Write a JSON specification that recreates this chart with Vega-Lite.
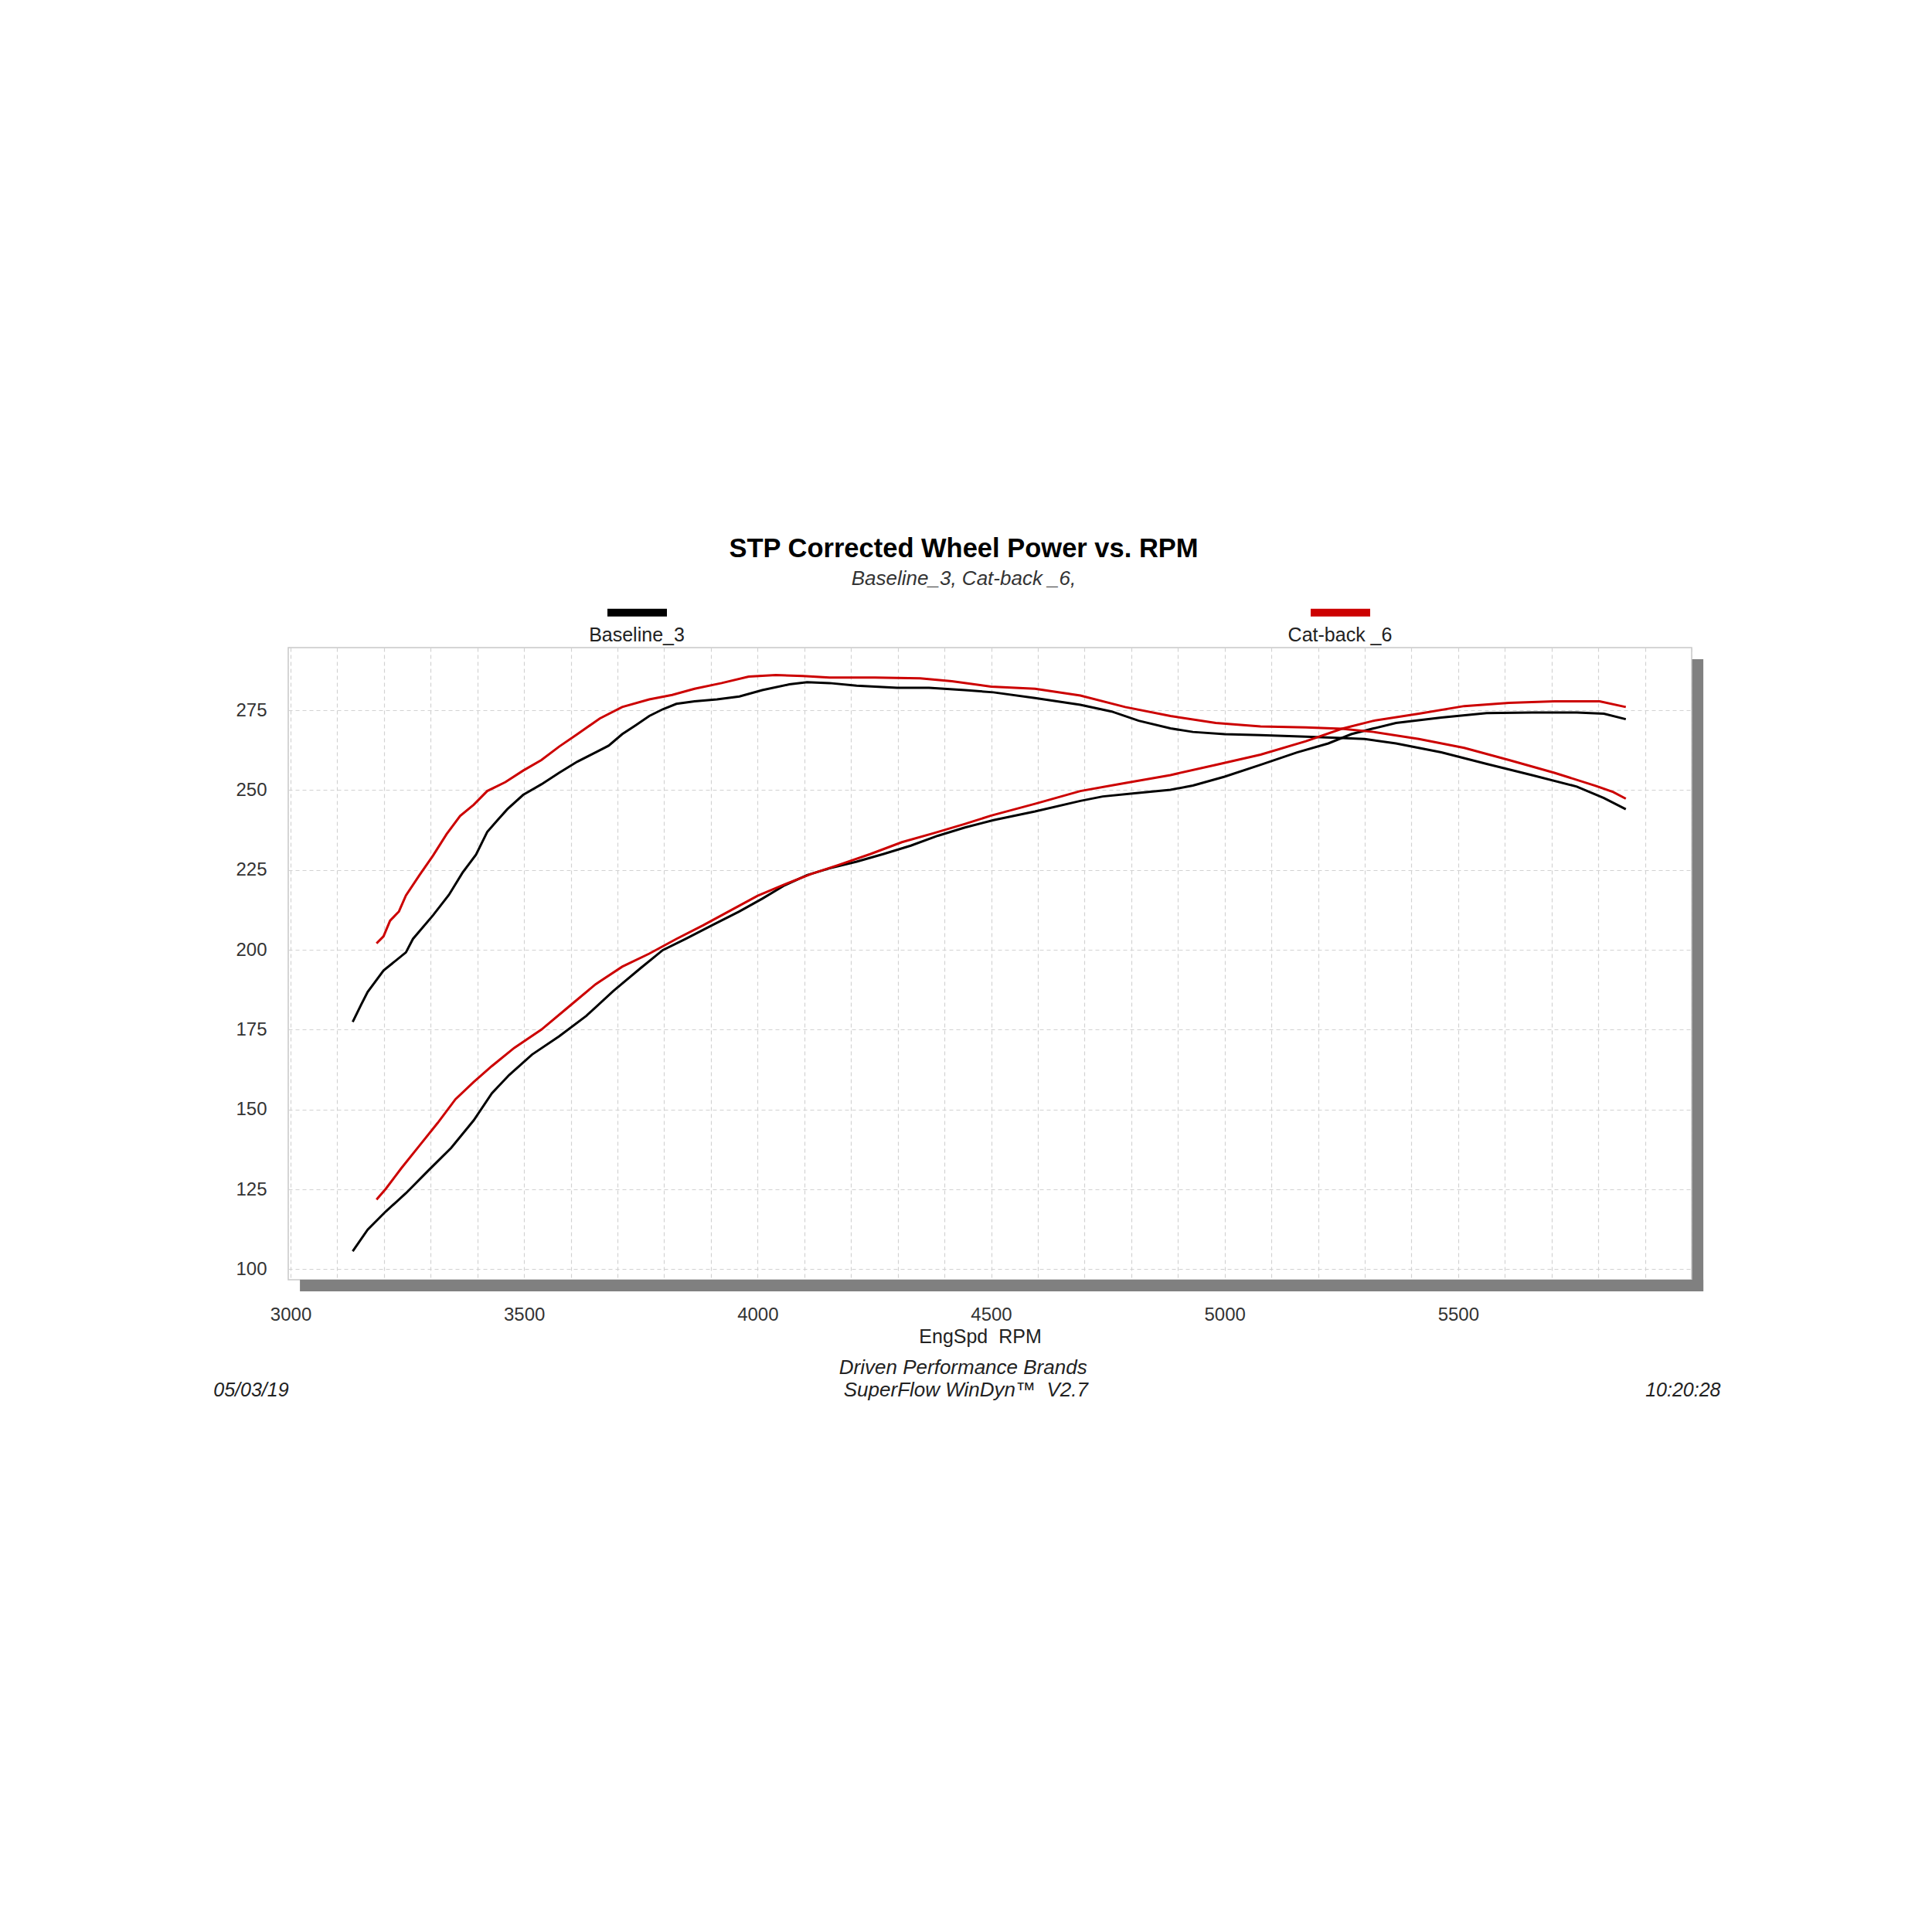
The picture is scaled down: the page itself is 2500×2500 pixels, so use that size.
{
  "$schema": "https://vega.github.io/schema/vega-lite/v6.json",
  "width": 1816,
  "height": 818,
  "autosize": {"type": "none"},
  "padding": {"left": 373, "top": 838, "right": 311, "bottom": 844},
  "background": "white",
  "title": {
    "text": "STP Corrected Wheel Power vs. RPM",
    "subtitle": "Baseline_3, Cat-back _6,",
    "frame": "group",
    "anchor": "middle",
    "dx": -34,
    "offset": -14,
    "font": "Liberation Sans",
    "fontSize": 34.5,
    "fontWeight": "bold",
    "color": "#000000",
    "subtitleFont": "Liberation Sans",
    "subtitleFontSize": 26,
    "subtitleFontStyle": "italic",
    "subtitleColor": "#333333",
    "subtitlePadding": 7.5
  },
  "config": {
    "view": {"stroke": "#c8c8c8", "strokeWidth": 1.5},
    "axis": {
      "labelFont": "Liberation Sans",
      "labelFontSize": 24,
      "labelColor": "#333333",
      "ticks": false,
      "tickSize": 0,
      "domain": false,
      "grid": true,
      "gridColor": "#d2d2d2",
      "gridDash": [5, 4],
      "gridWidth": 1.2,
      "labelOverlap": false,
      "labelFlush": false
    },
    "legend": {
      "labelFont": "Liberation Sans",
      "labelFontSize": 25,
      "labelColor": "#222222"
    }
  },
  "datasets": {
    "dyno": [
      {"run": "Baseline_3", "curve": "Torque", "rpm": 3133, "value": 177.4},
      {"run": "Baseline_3", "curve": "Torque", "rpm": 3151, "value": 182.8},
      {"run": "Baseline_3", "curve": "Torque", "rpm": 3165, "value": 186.8},
      {"run": "Baseline_3", "curve": "Torque", "rpm": 3199, "value": 193.5},
      {"run": "Baseline_3", "curve": "Torque", "rpm": 3247, "value": 199.2},
      {"run": "Baseline_3", "curve": "Torque", "rpm": 3262, "value": 203.4},
      {"run": "Baseline_3", "curve": "Torque", "rpm": 3305, "value": 210.8},
      {"run": "Baseline_3", "curve": "Torque", "rpm": 3339, "value": 217.2},
      {"run": "Baseline_3", "curve": "Torque", "rpm": 3368, "value": 224.1},
      {"run": "Baseline_3", "curve": "Torque", "rpm": 3397, "value": 229.8},
      {"run": "Baseline_3", "curve": "Torque", "rpm": 3421, "value": 236.9},
      {"run": "Baseline_3", "curve": "Torque", "rpm": 3442, "value": 240.4},
      {"run": "Baseline_3", "curve": "Torque", "rpm": 3464, "value": 244.0},
      {"run": "Baseline_3", "curve": "Torque", "rpm": 3498, "value": 248.5},
      {"run": "Baseline_3", "curve": "Torque", "rpm": 3537, "value": 251.8},
      {"run": "Baseline_3", "curve": "Torque", "rpm": 3575, "value": 255.4},
      {"run": "Baseline_3", "curve": "Torque", "rpm": 3614, "value": 258.9},
      {"run": "Baseline_3", "curve": "Torque", "rpm": 3653, "value": 261.8},
      {"run": "Baseline_3", "curve": "Torque", "rpm": 3681, "value": 263.9},
      {"run": "Baseline_3", "curve": "Torque", "rpm": 3710, "value": 267.5},
      {"run": "Baseline_3", "curve": "Torque", "rpm": 3739, "value": 270.3},
      {"run": "Baseline_3", "curve": "Torque", "rpm": 3768, "value": 273.2},
      {"run": "Baseline_3", "curve": "Torque", "rpm": 3797, "value": 275.3},
      {"run": "Baseline_3", "curve": "Torque", "rpm": 3826, "value": 277.0},
      {"run": "Baseline_3", "curve": "Torque", "rpm": 3865, "value": 277.8},
      {"run": "Baseline_3", "curve": "Torque", "rpm": 3913, "value": 278.4},
      {"run": "Baseline_3", "curve": "Torque", "rpm": 3961, "value": 279.3},
      {"run": "Baseline_3", "curve": "Torque", "rpm": 4010, "value": 281.3},
      {"run": "Baseline_3", "curve": "Torque", "rpm": 4068, "value": 283.1},
      {"run": "Baseline_3", "curve": "Torque", "rpm": 4106, "value": 283.8},
      {"run": "Baseline_3", "curve": "Torque", "rpm": 4154, "value": 283.5},
      {"run": "Baseline_3", "curve": "Torque", "rpm": 4212, "value": 282.7},
      {"run": "Baseline_3", "curve": "Torque", "rpm": 4299, "value": 282.0},
      {"run": "Baseline_3", "curve": "Torque", "rpm": 4367, "value": 282.0},
      {"run": "Baseline_3", "curve": "Torque", "rpm": 4444, "value": 281.3},
      {"run": "Baseline_3", "curve": "Torque", "rpm": 4505, "value": 280.6},
      {"run": "Baseline_3", "curve": "Torque", "rpm": 4594, "value": 278.8},
      {"run": "Baseline_3", "curve": "Torque", "rpm": 4691, "value": 276.7},
      {"run": "Baseline_3", "curve": "Torque", "rpm": 4758, "value": 274.6},
      {"run": "Baseline_3", "curve": "Torque", "rpm": 4816, "value": 271.7},
      {"run": "Baseline_3", "curve": "Torque", "rpm": 4884, "value": 269.3},
      {"run": "Baseline_3", "curve": "Torque", "rpm": 4932, "value": 268.2},
      {"run": "Baseline_3", "curve": "Torque", "rpm": 5000, "value": 267.5},
      {"run": "Baseline_3", "curve": "Torque", "rpm": 5077, "value": 267.2},
      {"run": "Baseline_3", "curve": "Torque", "rpm": 5174, "value": 266.7},
      {"run": "Baseline_3", "curve": "Torque", "rpm": 5251, "value": 266.3},
      {"run": "Baseline_3", "curve": "Torque", "rpm": 5300, "value": 266.0},
      {"run": "Baseline_3", "curve": "Torque", "rpm": 5367, "value": 264.6},
      {"run": "Baseline_3", "curve": "Torque", "rpm": 5464, "value": 261.8},
      {"run": "Baseline_3", "curve": "Torque", "rpm": 5561, "value": 258.2},
      {"run": "Baseline_3", "curve": "Torque", "rpm": 5658, "value": 254.7},
      {"run": "Baseline_3", "curve": "Torque", "rpm": 5754, "value": 251.1},
      {"run": "Baseline_3", "curve": "Torque", "rpm": 5812, "value": 247.5},
      {"run": "Baseline_3", "curve": "Torque", "rpm": 5859, "value": 244.0},
      {"run": "Baseline_3", "curve": "Power", "rpm": 3133, "value": 105.6},
      {"run": "Baseline_3", "curve": "Power", "rpm": 3165, "value": 112.4},
      {"run": "Baseline_3", "curve": "Power", "rpm": 3204, "value": 118.1},
      {"run": "Baseline_3", "curve": "Power", "rpm": 3247, "value": 123.8},
      {"run": "Baseline_3", "curve": "Power", "rpm": 3295, "value": 130.9},
      {"run": "Baseline_3", "curve": "Power", "rpm": 3344, "value": 138.0},
      {"run": "Baseline_3", "curve": "Power", "rpm": 3392, "value": 146.6},
      {"run": "Baseline_3", "curve": "Power", "rpm": 3431, "value": 155.1},
      {"run": "Baseline_3", "curve": "Power", "rpm": 3468, "value": 160.8},
      {"run": "Baseline_3", "curve": "Power", "rpm": 3517, "value": 167.2},
      {"run": "Baseline_3", "curve": "Power", "rpm": 3575, "value": 172.9},
      {"run": "Baseline_3", "curve": "Power", "rpm": 3633, "value": 179.3},
      {"run": "Baseline_3", "curve": "Power", "rpm": 3691, "value": 187.1},
      {"run": "Baseline_3", "curve": "Power", "rpm": 3749, "value": 194.2},
      {"run": "Baseline_3", "curve": "Power", "rpm": 3797, "value": 199.9},
      {"run": "Baseline_3", "curve": "Power", "rpm": 3846, "value": 203.4},
      {"run": "Baseline_3", "curve": "Power", "rpm": 3903, "value": 207.7},
      {"run": "Baseline_3", "curve": "Power", "rpm": 3961, "value": 212.0},
      {"run": "Baseline_3", "curve": "Power", "rpm": 4010, "value": 216.0},
      {"run": "Baseline_3", "curve": "Power", "rpm": 4058, "value": 220.2},
      {"run": "Baseline_3", "curve": "Power", "rpm": 4106, "value": 223.4},
      {"run": "Baseline_3", "curve": "Power", "rpm": 4154, "value": 225.5},
      {"run": "Baseline_3", "curve": "Power", "rpm": 4212, "value": 227.6},
      {"run": "Baseline_3", "curve": "Power", "rpm": 4270, "value": 230.0},
      {"run": "Baseline_3", "curve": "Power", "rpm": 4328, "value": 232.6},
      {"run": "Baseline_3", "curve": "Power", "rpm": 4386, "value": 235.7},
      {"run": "Baseline_3", "curve": "Power", "rpm": 4444, "value": 238.3},
      {"run": "Baseline_3", "curve": "Power", "rpm": 4505, "value": 240.6},
      {"run": "Baseline_3", "curve": "Power", "rpm": 4594, "value": 243.3},
      {"run": "Baseline_3", "curve": "Power", "rpm": 4691, "value": 246.6},
      {"run": "Baseline_3", "curve": "Power", "rpm": 4739, "value": 248.0},
      {"run": "Baseline_3", "curve": "Power", "rpm": 4807, "value": 249.0},
      {"run": "Baseline_3", "curve": "Power", "rpm": 4884, "value": 250.1},
      {"run": "Baseline_3", "curve": "Power", "rpm": 4932, "value": 251.4},
      {"run": "Baseline_3", "curve": "Power", "rpm": 5000, "value": 254.2},
      {"run": "Baseline_3", "curve": "Power", "rpm": 5077, "value": 257.9},
      {"run": "Baseline_3", "curve": "Power", "rpm": 5155, "value": 261.8},
      {"run": "Baseline_3", "curve": "Power", "rpm": 5222, "value": 264.6},
      {"run": "Baseline_3", "curve": "Power", "rpm": 5271, "value": 267.5},
      {"run": "Baseline_3", "curve": "Power", "rpm": 5319, "value": 269.3},
      {"run": "Baseline_3", "curve": "Power", "rpm": 5367, "value": 271.0},
      {"run": "Baseline_3", "curve": "Power", "rpm": 5464, "value": 272.7},
      {"run": "Baseline_3", "curve": "Power", "rpm": 5561, "value": 274.1},
      {"run": "Baseline_3", "curve": "Power", "rpm": 5658, "value": 274.3},
      {"run": "Baseline_3", "curve": "Power", "rpm": 5754, "value": 274.3},
      {"run": "Baseline_3", "curve": "Power", "rpm": 5812, "value": 273.9},
      {"run": "Baseline_3", "curve": "Power", "rpm": 5859, "value": 272.2},
      {"run": "Cat-back _6", "curve": "Torque", "rpm": 3184, "value": 202.0},
      {"run": "Cat-back _6", "curve": "Torque", "rpm": 3199, "value": 204.2},
      {"run": "Cat-back _6", "curve": "Torque", "rpm": 3213, "value": 209.1},
      {"run": "Cat-back _6", "curve": "Torque", "rpm": 3232, "value": 212.0},
      {"run": "Cat-back _6", "curve": "Torque", "rpm": 3247, "value": 217.0},
      {"run": "Cat-back _6", "curve": "Torque", "rpm": 3276, "value": 223.4},
      {"run": "Cat-back _6", "curve": "Torque", "rpm": 3305, "value": 229.5},
      {"run": "Cat-back _6", "curve": "Torque", "rpm": 3334, "value": 236.2},
      {"run": "Cat-back _6", "curve": "Torque", "rpm": 3363, "value": 241.9},
      {"run": "Cat-back _6", "curve": "Torque", "rpm": 3392, "value": 245.4},
      {"run": "Cat-back _6", "curve": "Torque", "rpm": 3421, "value": 249.7},
      {"run": "Cat-back _6", "curve": "Torque", "rpm": 3460, "value": 252.5},
      {"run": "Cat-back _6", "curve": "Torque", "rpm": 3498, "value": 256.1},
      {"run": "Cat-back _6", "curve": "Torque", "rpm": 3537, "value": 259.4},
      {"run": "Cat-back _6", "curve": "Torque", "rpm": 3575, "value": 263.6},
      {"run": "Cat-back _6", "curve": "Torque", "rpm": 3614, "value": 267.5},
      {"run": "Cat-back _6", "curve": "Torque", "rpm": 3662, "value": 272.4},
      {"run": "Cat-back _6", "curve": "Torque", "rpm": 3710, "value": 276.0},
      {"run": "Cat-back _6", "curve": "Torque", "rpm": 3768, "value": 278.4},
      {"run": "Cat-back _6", "curve": "Torque", "rpm": 3817, "value": 279.8},
      {"run": "Cat-back _6", "curve": "Torque", "rpm": 3865, "value": 281.7},
      {"run": "Cat-back _6", "curve": "Torque", "rpm": 3923, "value": 283.5},
      {"run": "Cat-back _6", "curve": "Torque", "rpm": 3981, "value": 285.5},
      {"run": "Cat-back _6", "curve": "Torque", "rpm": 4039, "value": 286.0},
      {"run": "Cat-back _6", "curve": "Torque", "rpm": 4097, "value": 285.7},
      {"run": "Cat-back _6", "curve": "Torque", "rpm": 4154, "value": 285.2},
      {"run": "Cat-back _6", "curve": "Torque", "rpm": 4251, "value": 285.2},
      {"run": "Cat-back _6", "curve": "Torque", "rpm": 4348, "value": 285.0},
      {"run": "Cat-back _6", "curve": "Torque", "rpm": 4416, "value": 284.1},
      {"run": "Cat-back _6", "curve": "Torque", "rpm": 4500, "value": 282.4},
      {"run": "Cat-back _6", "curve": "Torque", "rpm": 4594, "value": 281.7},
      {"run": "Cat-back _6", "curve": "Torque", "rpm": 4691, "value": 279.6},
      {"run": "Cat-back _6", "curve": "Torque", "rpm": 4787, "value": 276.0},
      {"run": "Cat-back _6", "curve": "Torque", "rpm": 4884, "value": 273.2},
      {"run": "Cat-back _6", "curve": "Torque", "rpm": 4981, "value": 271.0},
      {"run": "Cat-back _6", "curve": "Torque", "rpm": 5077, "value": 269.9},
      {"run": "Cat-back _6", "curve": "Torque", "rpm": 5174, "value": 269.6},
      {"run": "Cat-back _6", "curve": "Torque", "rpm": 5251, "value": 269.2},
      {"run": "Cat-back _6", "curve": "Torque", "rpm": 5319, "value": 268.2},
      {"run": "Cat-back _6", "curve": "Torque", "rpm": 5416, "value": 266.0},
      {"run": "Cat-back _6", "curve": "Torque", "rpm": 5513, "value": 263.2},
      {"run": "Cat-back _6", "curve": "Torque", "rpm": 5609, "value": 259.4},
      {"run": "Cat-back _6", "curve": "Torque", "rpm": 5706, "value": 255.4},
      {"run": "Cat-back _6", "curve": "Torque", "rpm": 5793, "value": 251.4},
      {"run": "Cat-back _6", "curve": "Torque", "rpm": 5832, "value": 249.4},
      {"run": "Cat-back _6", "curve": "Torque", "rpm": 5859, "value": 247.3},
      {"run": "Cat-back _6", "curve": "Power", "rpm": 3184, "value": 121.8},
      {"run": "Cat-back _6", "curve": "Power", "rpm": 3204, "value": 125.2},
      {"run": "Cat-back _6", "curve": "Power", "rpm": 3237, "value": 131.6},
      {"run": "Cat-back _6", "curve": "Power", "rpm": 3276, "value": 138.7},
      {"run": "Cat-back _6", "curve": "Power", "rpm": 3315, "value": 145.8},
      {"run": "Cat-back _6", "curve": "Power", "rpm": 3353, "value": 153.2},
      {"run": "Cat-back _6", "curve": "Power", "rpm": 3392, "value": 158.6},
      {"run": "Cat-back _6", "curve": "Power", "rpm": 3431, "value": 163.6},
      {"run": "Cat-back _6", "curve": "Power", "rpm": 3479, "value": 169.3},
      {"run": "Cat-back _6", "curve": "Power", "rpm": 3537, "value": 175.0},
      {"run": "Cat-back _6", "curve": "Power", "rpm": 3595, "value": 182.1},
      {"run": "Cat-back _6", "curve": "Power", "rpm": 3653, "value": 189.2},
      {"run": "Cat-back _6", "curve": "Power", "rpm": 3710, "value": 194.7},
      {"run": "Cat-back _6", "curve": "Power", "rpm": 3768, "value": 198.8},
      {"run": "Cat-back _6", "curve": "Power", "rpm": 3826, "value": 203.4},
      {"run": "Cat-back _6", "curve": "Power", "rpm": 3884, "value": 207.7},
      {"run": "Cat-back _6", "curve": "Power", "rpm": 3942, "value": 212.3},
      {"run": "Cat-back _6", "curve": "Power", "rpm": 4000, "value": 216.9},
      {"run": "Cat-back _6", "curve": "Power", "rpm": 4058, "value": 220.5},
      {"run": "Cat-back _6", "curve": "Power", "rpm": 4116, "value": 223.8},
      {"run": "Cat-back _6", "curve": "Power", "rpm": 4174, "value": 226.6},
      {"run": "Cat-back _6", "curve": "Power", "rpm": 4242, "value": 230.0},
      {"run": "Cat-back _6", "curve": "Power", "rpm": 4309, "value": 233.7},
      {"run": "Cat-back _6", "curve": "Power", "rpm": 4377, "value": 236.5},
      {"run": "Cat-back _6", "curve": "Power", "rpm": 4444, "value": 239.4},
      {"run": "Cat-back _6", "curve": "Power", "rpm": 4500, "value": 242.0},
      {"run": "Cat-back _6", "curve": "Power", "rpm": 4594, "value": 245.7},
      {"run": "Cat-back _6", "curve": "Power", "rpm": 4691, "value": 249.7},
      {"run": "Cat-back _6", "curve": "Power", "rpm": 4787, "value": 252.2},
      {"run": "Cat-back _6", "curve": "Power", "rpm": 4884, "value": 254.7},
      {"run": "Cat-back _6", "curve": "Power", "rpm": 4981, "value": 257.9},
      {"run": "Cat-back _6", "curve": "Power", "rpm": 5077, "value": 261.1},
      {"run": "Cat-back _6", "curve": "Power", "rpm": 5174, "value": 265.3},
      {"run": "Cat-back _6", "curve": "Power", "rpm": 5251, "value": 269.2},
      {"run": "Cat-back _6", "curve": "Power", "rpm": 5319, "value": 271.7},
      {"run": "Cat-back _6", "curve": "Power", "rpm": 5416, "value": 273.9},
      {"run": "Cat-back _6", "curve": "Power", "rpm": 5513, "value": 276.3},
      {"run": "Cat-back _6", "curve": "Power", "rpm": 5609, "value": 277.3},
      {"run": "Cat-back _6", "curve": "Power", "rpm": 5706, "value": 277.8},
      {"run": "Cat-back _6", "curve": "Power", "rpm": 5803, "value": 277.8},
      {"run": "Cat-back _6", "curve": "Power", "rpm": 5859, "value": 276.0}
    ]
  },
  "layer": [
    {
      "data": {"name": "dyno"},
      "mark": {"type": "line", "strokeWidth": 3, "interpolate": "linear"},
      "encoding": {
        "x": {
          "field": "rpm",
          "type": "quantitative",
          "scale": {"domain": [2995, 6000], "nice": false, "zero": false},
          "axis": {
            "values": [3000, 3100, 3200, 3300, 3400, 3500, 3600, 3700, 3800, 3900, 4000, 4100, 4200, 4300, 4400, 4500, 4600, 4700, 4800, 4900, 5000, 5100, 5200, 5300, 5400, 5500, 5600, 5700, 5800, 5900, 6000],
            "format": "d",
            "labelExpr": "(datum.value % 500 === 0 && datum.value < 6000) ? datum.label : ''",
            "labelPadding": 33,
            "title": "EngSpd\u00a0 RPM",
            "titleFont": "Liberation Sans",
            "titleFontSize": 25,
            "titleFontWeight": "normal",
            "titleColor": "#222222",
            "titleX": 895,
            "titleY": 73,
            "titleAlign": "center",
            "titleBaseline": "middle"
          }
        },
        "y": {
          "field": "value",
          "type": "quantitative",
          "scale": {"domain": [96.7, 294.6], "nice": false, "zero": false},
          "axis": {
            "values": [100, 125, 150, 175, 200, 225, 250, 275],
            "format": "d",
            "labelPadding": 28,
            "title": ""
          }
        },
        "color": {
          "field": "run",
          "type": "nominal",
          "scale": {"domain": ["Baseline_3", "Cat-back _6"], "range": ["#000000", "#cc0000"]},
          "legend": {
            "title": null,
            "orient": "none",
            "legendX": 408,
            "legendY": -89,
            "direction": "horizontal",
            "padding": 0,
            "symbolType": "stroke",
            "symbolSize": 5929,
            "symbolStrokeWidth": 10,
            "labelAlign": "center",
            "labelOffset": -44,
            "columnPadding": 780,
            "encoding": {"labels": {"dy": {"value": 29}}}
          }
        },
        "detail": {"field": "curve", "type": "nominal"}
      }
    },
    {
      "data": {"values": [{}]},
      "mark": {"type": "rect", "color": "#808080"},
      "encoding": {
        "x": {"datum": 3020, "type": "quantitative"},
        "x2": {"datum": 6025},
        "y": {"datum": 96.7, "type": "quantitative"},
        "y2": {"datum": 93.1}
      }
    },
    {
      "data": {"values": [{}]},
      "mark": {"type": "rect", "color": "#808080"},
      "encoding": {
        "x": {"datum": 6001, "type": "quantitative"},
        "x2": {"datum": 6025},
        "y": {"datum": 291.0, "type": "quantitative"},
        "y2": {"datum": 93.1}
      }
    },
    {
      "data": {"values": [{}]},
      "mark": {"type": "text", "font": "Liberation Sans", "fontSize": 25, "fontStyle": "italic", "color": "#222222", "align": "left", "baseline": "middle"},
      "encoding": {
        "x": {"datum": 2835, "type": "quantitative"},
        "y": {"datum": 62.1, "type": "quantitative"},
        "text": {"value": "05/03/19"}
      }
    },
    {
      "data": {"values": [{}]},
      "mark": {"type": "text", "font": "Liberation Sans", "fontSize": 25, "fontStyle": "italic", "color": "#222222", "align": "right", "baseline": "middle"},
      "encoding": {
        "x": {"datum": 6062, "type": "quantitative"},
        "y": {"datum": 62.1, "type": "quantitative"},
        "text": {"value": "10:20:28"}
      }
    },
    {
      "data": {"values": [{}]},
      "mark": {"type": "text", "font": "Liberation Sans", "fontSize": 26, "fontStyle": "italic", "color": "#222222", "align": "center", "baseline": "middle"},
      "encoding": {
        "x": {"datum": 4440, "type": "quantitative"},
        "y": {"datum": 69.1, "type": "quantitative"},
        "text": {"value": "Driven Performance Brands"}
      }
    },
    {
      "data": {"values": [{}]},
      "mark": {"type": "text", "font": "Liberation Sans", "fontSize": 26, "fontStyle": "italic", "color": "#222222", "align": "center", "baseline": "middle"},
      "encoding": {
        "x": {"datum": 4446, "type": "quantitative"},
        "y": {"datum": 62.1, "type": "quantitative"},
        "text": {"value": "SuperFlow WinDyn\u2122\u00a0 V2.7"}
      }
    }
  ]
}
